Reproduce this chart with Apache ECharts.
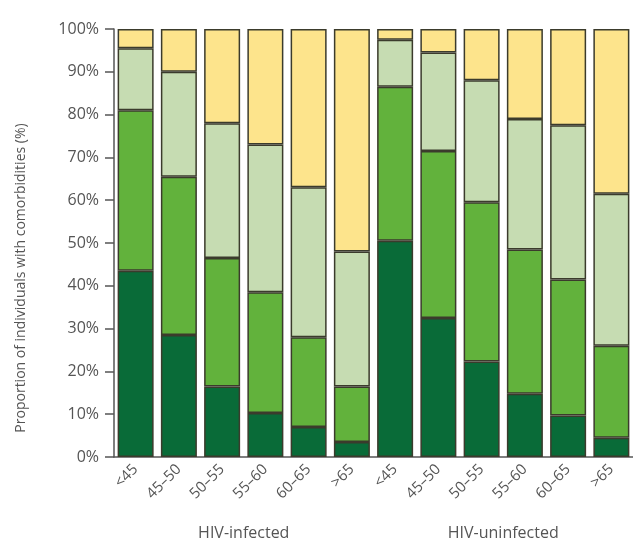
<!DOCTYPE html>
<html>
<head>
<meta charset="utf-8">
<script src="https://cdn.jsdelivr.net/npm/echarts@6/dist/echarts.min.js"></script>
<style>
  html, body { margin: 0; padding: 0; background: #fff; }
  #chart { width: 633px; height: 548px; }
</style>
</head>
<body>
<div id="chart"></div>
<script>
// age bands, repeated for both groups
var ageBands = ['<45', '45\u201350', '50\u201355', '55\u201360', '60\u201365', '>65',
                '<45', '45\u201350', '50\u201355', '55\u201360', '60\u201365', '>65'];
var groups = ['HIV-infected', 'HIV-uninfected'];

// stacked shares (%), bottom to top
var darkGreen  = [43.5, 28.5, 16.5, 10.3, 7.0, 3.5, 50.5, 32.5, 22.3, 14.8, 9.7, 4.5];
var midGreen   = [37.5, 37.0, 30.0, 28.2, 21.0, 13.0, 36.0, 39.0, 37.2, 33.7, 31.8, 21.5];
var paleGreen  = [14.5, 24.5, 31.5, 34.5, 35.0, 31.5, 11.0, 23.0, 28.5, 30.5, 36.0, 35.5];
var yellow     = [4.5, 10.0, 22.0, 27.0, 37.0, 52.0, 2.5, 5.5, 12.0, 21.0, 22.5, 38.5];

var yTicks = [0, 10, 20, 30, 40, 50, 60, 70, 80, 90, 100];

var textColor = '#555';
var edge = '#3b3b2c';
var font = 'Open Sans';

function barSeries(name, data, color) {
    return {
        name: name,
        type: 'bar',
        stack: 'all',
        data: data,
        barWidth: 36,
        itemStyle: { color: color, borderColor: edge, borderWidth: 1.5 }
    };
}

var chart = echarts.init(document.getElementById('chart'));
chart.setOption({
    animation: false,
    grid: { left: 114, right: -3, top: 29, bottom: 91 },
    xAxis: [{
        type: 'category',
        data: ageBands,
        axisLine: { lineStyle: { color: textColor, width: 1.5 } },
        axisTick: { length: 9, lineStyle: { color: textColor, width: 1.5 } },
        axisLabel: { rotate: 45, color: textColor, fontSize: 15, fontFamily: font, margin: 10 }
    }, {
        type: 'category',
        data: groups,
        position: 'bottom',
        offset: 60,
        axisLine: { show: false },
        axisTick: { show: false },
        axisLabel: { color: textColor, fontSize: 16, fontFamily: font }
    }],
    yAxis: {
        type: 'value',
        min: yTicks[0],
        max: yTicks[yTicks.length - 1],
        interval: 10,
        name: 'Proportion of individuals with comorbidities (%)',
        nameLocation: 'middle',
        nameGap: 86,
        nameTextStyle: { color: textColor, fontSize: 14, fontFamily: font, padding: [0, 70, 0, 0] },
        axisLine: { show: true, lineStyle: { color: textColor, width: 1.5 } },
        axisTick: { show: true, length: 9, lineStyle: { color: textColor, width: 1.5 } },
        splitLine: { show: false },
        axisLabel: { color: textColor, fontSize: 16, fontFamily: font, margin: 15,
                     formatter: function (v) { return v + '%'; } }
    },
    series: [
        barSeries('dark', darkGreen, '#096b38'),
        barSeries('mid', midGreen, '#62b23c'),
        barSeries('pale', paleGreen, '#c6dcb2'),
        barSeries('yellow', yellow, '#fde48c')
    ]
});
</script>
</body>
</html>
